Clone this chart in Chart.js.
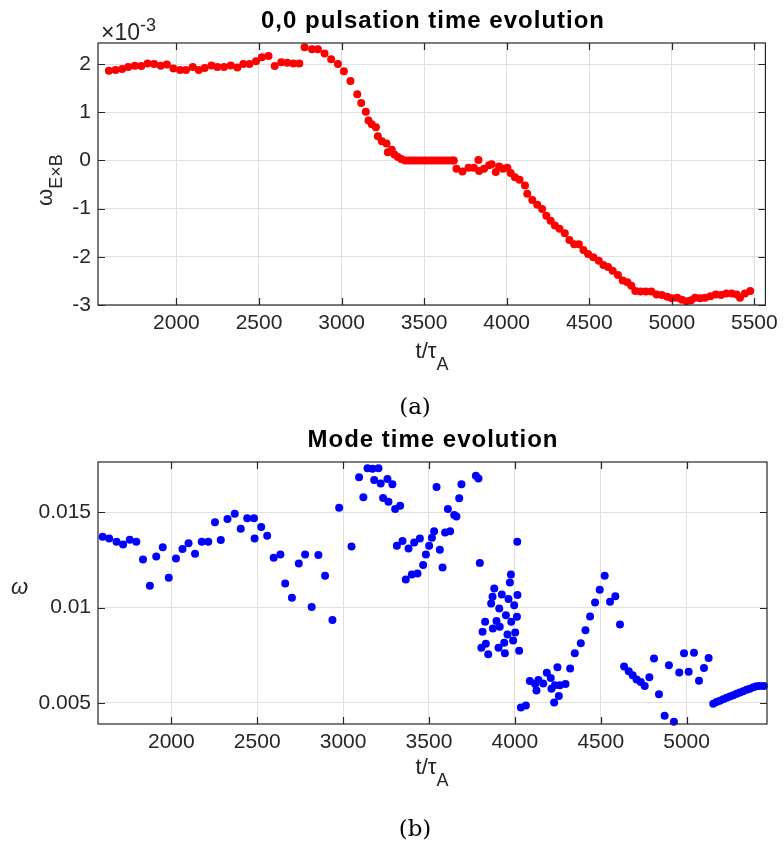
<!DOCTYPE html>
<html lang="en">
<head>
  <meta charset="UTF-8">
  <title>Pulsation and mode time evolution</title>
  <script src="https://cdn.jsdelivr.net/npm/chart.js"></script>
  <style>
    body { margin: 0; background: #fff; }
    #page { position: relative; width: 784px; height: 845px; font-family: "Liberation Sans", Arial, sans-serif; color: #262626; }
    canvas { position: absolute; left: 0; }
    .lbl { position: absolute; white-space: nowrap; line-height: 1; }
    .title { font-weight: bold; font-size: 24px; letter-spacing: 1px; color: #000; transform: translateX(-50%); }
    .cap { font-family: "DejaVu Serif", "Liberation Serif", serif; font-size: 23px; color: #000; transform: translateX(-50%); }
    .xl { font-size: 22px; transform: translateX(-50%); }
    .xl sub { font-size: 18px; vertical-align: -12px; }
  </style>
</head>
<body>
<div id="page">
  <canvas id="topChart" width="784" height="360" style="top:0"></canvas>
  <canvas id="bottomChart" width="784" height="360" style="top:420px"></canvas>

  <div class="lbl title" style="left:433px; top:8px">0,0 pulsation time evolution</div>
  <div class="lbl" style="left:101px; top:16px; font-size:23px">&times;10<sup style="font-size:18px; vertical-align:9px">-3</sup></div>
  <div class="lbl" style="left:34px; top:206px; font-size:22px; transform: rotate(-90deg); transform-origin: 0 0">&omega;<sub style="font-size:18px; vertical-align:-10px">E&times;B</sub></div>
  <div class="lbl xl" style="left:432px; top:340px">t/&tau;<sub>A</sub></div>
  <div class="lbl cap" style="left:415px; top:395px">(a)</div>

  <div class="lbl title" style="left:433px; top:427px">Mode time evolution</div>
  <div class="lbl" style="left:11px; top:576px; font-size:22px; font-style:italic">&omega;</div>
  <div class="lbl xl" style="left:432px; top:756px">t/&tau;<sub>A</sub></div>
  <div class="lbl cap" style="left:415px; top:817px">(b)</div>
</div>
<script>
  // (a) omega_ExB, values in units of 1e-3
  const tPuls = [1591, 1631, 1671, 1708, 1748, 1788, 1825, 1865, 1905, 1942,
    1982, 2022, 2058, 2099, 2135, 2171, 2212, 2248, 2288, 2329,
    2369, 2405, 2442, 2482, 2518, 2558, 2595, 2635, 2671, 2708,
    2744, 2776, 2821, 2857, 2897, 2937, 2978, 3014, 3054, 3095,
    3119, 3147, 3163, 3183, 3208, 3220, 3244, 3272, 3280, 3304,
    3320, 3341, 3361, 3385,
    3405, 3425, 3445, 3465, 3485, 3505, 3525, 3545, 3565, 3585,
    3605, 3625, 3645, 3665, 3680,
    3696, 3732, 3769, 3801, 3829, 3833, 3863, 3893, 3909, 3934,
    3954, 3978, 4004, 4024, 4050, 4078, 4111, 4125, 4155, 4185,
    4215, 4240, 4266, 4292, 4320, 4352, 4380, 4409, 4437, 4465,
    4493, 4525, 4558, 4586, 4614, 4642, 4674, 4703, 4731, 4755,
    4779, 4811, 4843, 4876, 4908, 4940, 4972, 5000, 5033, 5061,
    5089, 5117, 5141, 5172, 5202, 5234, 5266, 5298, 5330, 5363,
    5393, 5413, 5443, 5475];
  const wExB = [1.86, 1.875, 1.90, 1.94, 1.965, 1.96, 2.01, 2.00, 1.965, 1.99,
    1.91, 1.875, 1.875, 1.94, 1.875, 1.92, 1.97, 1.94, 1.94, 1.97,
    1.93, 2.00, 2.00, 2.06, 2.14, 2.17, 1.96, 2.04, 2.03, 2.01,
    2.01, 2.35, 2.31, 2.31, 2.22, 2.10, 2.00, 1.85, 1.65, 1.375,
    1.19, 1.01, 0.83, 0.75, 0.69, 0.50, 0.40, 0.35, 0.17, 0.22,
    0.125, 0.07, 0.03, 0,
    0, 0, 0, 0, 0, 0, 0, 0, 0, 0,
    0, 0, 0, 0, 0,
    -0.17, -0.23, -0.15, -0.15, 0.01, -0.22, -0.17, -0.10, -0.08, -0.24,
    -0.125, -0.17, -0.15, -0.26, -0.35, -0.40, -0.52, -0.69, -0.82, -0.92,
    -1.01, -1.15, -1.25, -1.35, -1.42, -1.51, -1.65, -1.74, -1.74, -1.86,
    -1.94, -2.01, -2.08, -2.17, -2.21, -2.29, -2.375, -2.49, -2.53, -2.60,
    -2.71, -2.72, -2.72, -2.72, -2.78, -2.79, -2.83, -2.86, -2.85, -2.89,
    -2.92, -2.90, -2.85, -2.86, -2.85, -2.82, -2.78, -2.79, -2.76, -2.76,
    -2.78, -2.85, -2.76, -2.71];

  // (b) mode frequency
  const tMode = [1600, 1638, 1681, 1719, 1758, 1796, 1835, 1875, 1912, 1950,
    1985, 2027, 2065, 2100, 2138, 2177, 2215, 2254, 2288, 2327,
    2369, 2404, 2442, 2481, 2485, 2523, 2558, 2596, 2635, 2663,
    2702, 2742, 2779, 2817, 2856, 2895, 2938, 2977, 3049, 3093,
    3118, 3142, 3171, 3181, 3206, 3219, 3233, 3258, 3264, 3287,
    3303, 3313, 3332, 3346, 3365, 3381, 3400, 3414, 3433, 3447,
    3466, 3482, 3501, 3517, 3530, 3544, 3563, 3579, 3594, 3610,
    3623, 3647, 3660, 3676, 3689, 3773, 3788, 3796, 3805, 3812,
    3827, 3831, 3845, 3862, 3870, 3872, 3880, 3893, 3905, 3909,
    3912, 3924, 3938, 3942, 3948, 3957, 3963, 3971, 3977, 3979,
    3990, 3996, 4002, 4012, 4014, 4015, 4025, 4035, 4064, 4087,
    4118, 4126, 4137, 4165, 4186, 4209, 4213, 4229, 4233, 4248,
    4256, 4262, 4295, 4322, 4349, 4384, 4411, 4438, 4467, 4494,
    4523, 4554, 4585, 4612, 4636, 4663, 4686, 4709, 4733, 4756,
    4783, 4810, 4839, 4872, 4897, 4926, 4957, 4985, 5012, 5043,
    5072, 5101, 5128, 5155, 5174, 5194, 5213, 5233, 5252, 5271,
    5291, 5310, 5329, 5349, 5368, 5388, 5407, 5426, 5450];
  const wMode = [0.01371, 0.01362, 0.01344, 0.01330, 0.01355, 0.01344, 0.01252, 0.01114, 0.01267, 0.01316,
    0.01156, 0.01257, 0.01306, 0.01336, 0.01281, 0.01344, 0.01344, 0.01446, 0.01353, 0.01463,
    0.01491, 0.01413, 0.01467, 0.01467, 0.01362, 0.01421, 0.01376, 0.01260, 0.01278, 0.01126,
    0.01051, 0.01231, 0.01278, 0.01003, 0.01275, 0.01166, 0.00934, 0.01523, 0.01320, 0.01682,
    0.01577, 0.01729, 0.01726, 0.01668, 0.01729, 0.01650, 0.01573, 0.01673, 0.01554, 0.01645,
    0.01516, 0.01323, 0.01533, 0.01348, 0.01147, 0.01309, 0.01173, 0.01341, 0.01178, 0.01362,
    0.01222, 0.01278, 0.01323, 0.01365, 0.01400, 0.01631, 0.01303, 0.01210, 0.01393, 0.01516,
    0.01400, 0.01484, 0.01476, 0.01572, 0.01645, 0.01690, 0.01676, 0.01233, 0.00789, 0.00873,
    0.00925, 0.00810, 0.00755, 0.01021, 0.01056, 0.00890, 0.01100, 0.00930, 0.00789, 0.00995,
    0.00899, 0.01068, 0.00815, 0.00760, 0.00960, 0.00859, 0.01044, 0.01131, 0.01173, 0.00925,
    0.00827, 0.01012, 0.00869, 0.00951, 0.01344, 0.01065, 0.00773, 0.00476, 0.00487, 0.00615,
    0.00600, 0.00565, 0.00621, 0.00602, 0.00659, 0.00631, 0.00575, 0.00502, 0.00593, 0.00687,
    0.00537, 0.00593, 0.00600, 0.00680, 0.00760, 0.00813, 0.00881, 0.00953, 0.01026, 0.01093,
    0.01166, 0.01030, 0.01059, 0.00911, 0.00691, 0.00666, 0.00645, 0.00623, 0.00610, 0.00589,
    0.00635, 0.00733, 0.00546, 0.00433, 0.00698, 0.00402, 0.00660, 0.00760, 0.00663, 0.00763,
    0.00617, 0.00683, 0.00736, 0.00496, 0.00505, 0.00512, 0.00520, 0.00527, 0.00534, 0.00541,
    0.00548, 0.00555, 0.00562, 0.00569, 0.00575, 0.00582, 0.00588, 0.00589, 0.00589];

  // tick labels
  const tTicks = [2000, 2500, 3000, 3500, 4000, 4500, 5000, 5500];
  const pulsTicks = [-3, -2, -1, 0, 1, 2];
  const modeTicks = [0.005, 0.01, 0.015];

  const axisColor = '#262626';
  const gridColor = '#dfdfdf';
  const tickFont = { family: '"Liberation Sans", Arial, sans-serif', size: 21 };

  // box around the axes with inward ticks on all four sides (matlab style)
  const boxPlugin = {
    id: 'box',
    afterDraw(chart) {
      const { ctx, chartArea: a, scales } = chart;
      const len = 7;
      ctx.save();
      ctx.strokeStyle = axisColor;
      ctx.lineWidth = 1.2;
      ctx.beginPath();
      scales.x.ticks.forEach(t => {
        const px = Math.round(scales.x.getPixelForValue(t.value)) + 0.5;
        ctx.moveTo(px, a.bottom); ctx.lineTo(px, a.bottom - len);
        ctx.moveTo(px, a.top); ctx.lineTo(px, a.top + len);
      });
      scales.y.ticks.forEach(t => {
        const py = Math.round(scales.y.getPixelForValue(t.value)) + 0.5;
        ctx.moveTo(a.left, py); ctx.lineTo(a.left + len, py);
        ctx.moveTo(a.right, py); ctx.lineTo(a.right - len, py);
      });
      ctx.stroke();
      ctx.strokeRect(a.left, a.top, a.right - a.left, a.bottom - a.top);
      ctx.restore();
    }
  };

  function makeChart(id, xs, ys, color, opts) {
    const points = xs.map((x, i) => ({ x: x, y: ys[i] }));
    return new Chart(document.getElementById(id).getContext('2d'), {
      type: 'scatter',
      data: {
        datasets: [{
          data: points,
          pointRadius: 4,
          pointHoverRadius: 4,
          pointBackgroundColor: color,
          pointBorderWidth: 0,
          clip: false
        }]
      },
      options: {
        responsive: false,
        animation: false,
        devicePixelRatio: 1,
        layout: { padding: { top: opts.top, right: 17, left: 0, bottom: 0 } },
        plugins: { legend: { display: false }, tooltip: { enabled: false } },
        scales: {
          x: {
            type: 'linear',
            min: opts.xmin,
            max: opts.xmax,
            afterBuildTicks: s => { s.ticks = tTicks.filter(v => v <= opts.xmax).map(v => ({ value: v })); },
            afterFit: s => { s.height = opts.xh; },
            grid: { color: gridColor, drawTicks: false },
            border: { display: false },
            ticks: { font: tickFont, color: axisColor, padding: 6, maxRotation: 0, callback: v => String(v) }
          },
          y: {
            type: 'linear',
            min: opts.ymin,
            max: opts.ymax,
            afterBuildTicks: s => { s.ticks = opts.yTicks.map(v => ({ value: v })); },
            afterFit: s => { s.width = 98; },
            grid: { color: gridColor, drawTicks: false },
            border: { display: false },
            ticks: { font: tickFont, color: axisColor, padding: 7, callback: v => String(v) }
          }
        }
      },
      plugins: [boxPlugin]
    });
  }

  makeChart('topChart', tPuls, wExB, '#ff0000',
    { top: 43, xh: 55, xmin: 1525, xmax: 5567, ymin: -3, ymax: 2.4375, yTicks: pulsTicks });
  makeChart('bottomChart', tMode, wMode, '#0000ff',
    { top: 42, xh: 56, xmin: 1573, xmax: 5468, ymin: 0.0039, ymax: 0.01762, yTicks: modeTicks });
</script>
</body>
</html>
